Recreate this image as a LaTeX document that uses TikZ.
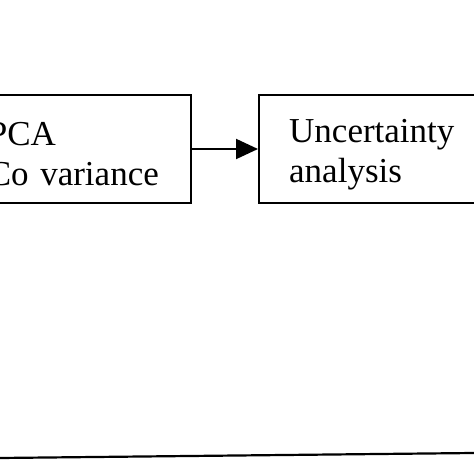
\documentclass[tikz,border=0pt]{standalone}
\usepackage{fontspec}
\setmainfont{Liberation Serif}
\usepackage{tikz}
\usetikzlibrary{arrows.meta,positioning}
\newcommand{\topgap}{\rule{0pt}{34pt}}
\tikzset{
  stepbox/.style={draw=black, line width=2.4pt, align=left, text width=173pt, inner xsep=30pt, minimum height=108pt, font=\fontsize{35}{40}\selectfont},
  flow/.style={draw=black, line width=2pt, -{Triangle[length=22pt,width=20pt]}},
  baseline rule/.style={draw=black, line width=2.2pt},
}
\begin{document}
\begin{tikzpicture}[x=1pt,y=1pt]
  \useasboundingbox (0,0) rectangle (474,474);
  \clip (0,0) rectangle (474,474);

  \node[stepbox, anchor=east] (pca) at (192,325) {\topgap PCA\\Co variance};
  \node[stepbox, anchor=west, text width=200pt] (unc) at (258,325) {\topgap Uncertainty\\analysis};
  \draw[flow] (pca.east) -- (unc.west);

  % edge of the next box below
  \coordinate (L) at (0,16);
  \coordinate (R) at (474,21);
  \draw[baseline rule] (L) -- (R);
\end{tikzpicture}
\end{document}
